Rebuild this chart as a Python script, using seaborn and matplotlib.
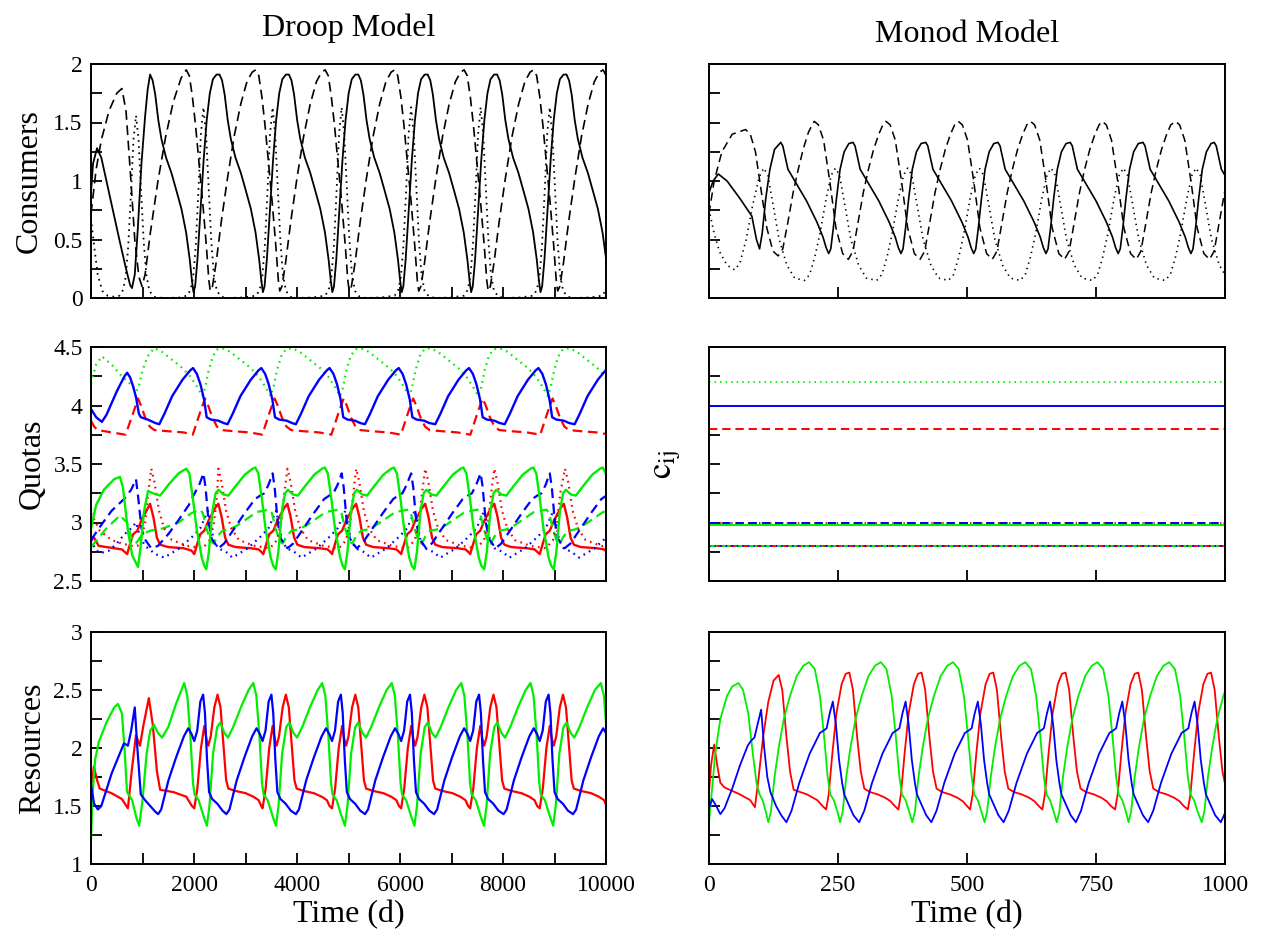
import matplotlib
matplotlib.use("Agg")
import numpy as np
import pandas as pd
import seaborn as sns
import matplotlib.pyplot as plt
from matplotlib.ticker import MultipleLocator, NullFormatter, FormatStrFormatter

# ---------------------------------------------------------------------------
# Data: each trajectory is an initial transient (head) followed by one
# repeating limit-cycle shape (phase offsets / values) placed at the
# successive cycle start times.
# ---------------------------------------------------------------------------

# Droop model, consumers (time in days)
droop_c1_head_t = [0, 40, 117, 200, 300, 400, 550, 680, 760, 796, 850, 910, 980, 1050, 1100]
droop_c1_head_v = [0.9, 1.15, 1.28, 1.2, 1.0, 0.8, 0.5, 0.25, 0.11, 0.085, 0.2, 0.6, 1.15, 1.55, 1.78]
droop_c1_cyc_t = [0, 50, 100, 160, 220, 310, 414, 510, 610, 700, 770, 815, 843, 875, 920, 980, 1040, 1100, 1160, 1220, 1290]
droop_c1_cyc_v = [1.91, 1.86, 1.74, 1.52, 1.36, 1.2, 1.07, 0.92, 0.76, 0.56, 0.33, 0.14, 0.05, 0.1, 0.33, 0.75, 1.18, 1.52, 1.75, 1.87, 1.91]
droop_c1_starts = [1147, 2495, 3843, 5190, 6538, 7885, 9233, 10580]

droop_c2_head_t = [0, 100, 200, 350, 500, 600, 680, 760, 850, 930, 990, 1050, 1150, 1300, 1450, 1600, 1750]
droop_c2_head_v = [0.72, 1.1, 1.35, 1.6, 1.75, 1.79, 1.6, 1.1, 0.5, 0.18, 0.1, 0.2, 0.55, 1.0, 1.38, 1.68, 1.88]
droop_c2_cyc_t = [0, 60, 120, 180, 250, 320, 390, 440, 468, 510, 580, 680, 800, 930, 1060, 1180, 1280]
droop_c2_cyc_v = [1.95, 1.9, 1.72, 1.48, 1.15, 0.82, 0.45, 0.15, 0.06, 0.1, 0.3, 0.65, 1.02, 1.38, 1.66, 1.85, 1.93]
droop_c2_starts = [1849, 3198, 4547, 5896, 7245, 8594, 9943, 11292]

droop_c3_head_t = [0, 60, 130, 220, 320, 450, 554, 624, 674, 724, 774, 824, 874, 924, 974, 1024, 1074, 1134, 1224, 1400, 1700]
droop_c3_head_v = [0.68, 0.45, 0.2, 0.06, 0.02, 0.01, 0.02, 0.07, 0.18, 0.45, 0.88, 1.35, 1.56, 1.35, 0.9, 0.48, 0.2, 0.06, 0.01, 0.0, 0.003]
droop_c3_cyc_t = [0, 70, 120, 170, 220, 270, 320, 370, 420, 470, 520, 580, 670, 800, 1100]
droop_c3_cyc_v = [0.02, 0.07, 0.18, 0.45, 0.9, 1.4, 1.63, 1.4, 0.95, 0.5, 0.2, 0.06, 0.01, 0.0, 0.005]
droop_c3_starts = [1864, 3206, 4547, 5897, 7246, 8588, 9930]

# Droop model, quotas
q_blue_solid_head_t = [0, 100, 211, 300, 500, 650, 702, 760, 820, 874, 930, 967, 1100, 1250]
q_blue_solid_head_v = [3.97, 3.9, 3.86, 3.92, 4.12, 4.25, 4.28, 4.24, 4.16, 4.07, 3.93, 3.9, 3.88, 3.85]
q_blue_solid_cyc_t = [0, 100, 250, 450, 600, 655, 730, 800, 870, 920, 1000, 1150, 1250]
q_blue_solid_cyc_v = [3.84, 3.93, 4.08, 4.22, 4.3, 4.32, 4.27, 4.18, 4.05, 3.9, 3.88, 3.87, 3.85]
q_blue_solid_starts = [1326, 2652, 3978, 5320, 6685, 8034, 9391, 10740]

q_red_dash_head_t = [0, 60, 130, 400, 672, 750, 830, 912, 970, 1050, 1140, 1230, 1500, 1800]
q_red_dash_head_v = [3.87, 3.82, 3.79, 3.77, 3.75, 3.85, 3.95, 4.06, 4.0, 3.9, 3.82, 3.79, 3.78, 3.77]
q_red_dash_cyc_t = [0, 60, 150, 240, 300, 380, 470, 560, 800, 1100, 1300]
q_red_dash_cyc_v = [3.75, 3.83, 3.95, 4.06, 4.0, 3.9, 3.82, 3.79, 3.78, 3.77, 3.755]
q_red_dash_starts = [1975, 3325, 4666, 6016, 7365, 8722, 10070]

q_green_dot_head_t = [0, 100, 211, 400, 600, 800, 874, 920, 1000, 1100]
q_green_dot_head_v = [4.19, 4.35, 4.42, 4.35, 4.25, 4.17, 4.12, 4.15, 4.3, 4.42]
q_green_dot_cyc_t = [0, 150, 350, 550, 700, 820, 900, 940, 990, 1060, 1140, 1230]
q_green_dot_cyc_v = [4.49, 4.46, 4.39, 4.32, 4.25, 4.17, 4.11, 4.08, 4.15, 4.3, 4.42, 4.48]
q_green_dot_starts = [1225, 2551, 3900, 5242, 6583, 7933, 9282, 10630]

q_green_solid_head_t = [0, 100, 250, 450, 562, 620, 717, 800, 912, 960, 1030, 1108, 1200, 1342, 1500, 1700, 1849, 1910, 1980, 2050, 2150, 2200]
q_green_solid_head_v = [2.95, 3.15, 3.28, 3.37, 3.39, 3.3, 2.93, 2.72, 2.62, 2.78, 3.1, 3.27, 3.25, 3.23, 3.32, 3.42, 3.46, 3.42, 3.2, 2.95, 2.7, 2.63]
q_green_solid_cyc_t = [0, 50, 120, 180, 234, 330, 429, 550, 750, 900, 951, 1010, 1080, 1150, 1250, 1300]
q_green_solid_cyc_v = [2.6, 2.75, 3.1, 3.25, 3.28, 3.24, 3.23, 3.3, 3.41, 3.46, 3.47, 3.42, 3.2, 2.95, 2.7, 2.63]
q_green_solid_starts = [2239, 3588, 4930, 6279, 7636, 8986, 10335]

q_blue_dash_head_t = [0, 200, 400, 640, 780, 874, 920, 980, 1040, 1170, 1300, 1500, 1700, 1900, 2000, 2100]
q_blue_dash_head_v = [2.85, 2.98, 3.1, 3.2, 3.28, 3.37, 3.2, 2.95, 2.86, 2.78, 2.8, 2.9, 3.02, 3.15, 3.24, 3.32]
q_blue_dash_cyc_t = [0, 40, 100, 160, 290, 400, 600, 800, 1000, 1100, 1180, 1260]
q_blue_dash_cyc_v = [3.42, 3.3, 3.0, 2.86, 2.78, 2.82, 2.95, 3.08, 3.2, 3.23, 3.25, 3.32]
q_blue_dash_starts = [2184, 3526, 4867, 6217, 7566, 8908, 10250]

q_red_dot_head_t = [0, 170, 400, 600, 800, 900, 970, 1050, 1110]
q_red_dot_head_v = [3.08, 2.93, 2.85, 2.82, 2.8, 2.8, 2.85, 3.0, 3.25]
q_red_dot_cyc_t = [0, 60, 150, 250, 400, 700, 1000, 1140, 1220, 1280]
q_red_dot_cyc_v = [3.46, 3.35, 3.1, 2.95, 2.85, 2.8, 2.78, 2.85, 3.0, 3.25]
q_red_dot_starts = [1170, 2473, 3814, 5148, 6490, 7831, 9204, 10540]

q_green_dash_head_t = [0, 300, 562, 700, 800, 870, 1000, 1150, 1400, 1700, 1950]
q_green_dash_head_v = [2.79, 2.95, 3.06, 3.0, 2.85, 2.82, 2.9, 2.93, 2.95, 3.0, 3.08]
q_green_dash_cyc_t = [0, 50, 120, 200, 260, 330, 430, 550, 700, 900, 1100]
q_green_dash_cyc_v = [3.11, 3.08, 2.95, 2.84, 2.82, 2.88, 2.93, 2.94, 2.97, 3.03, 3.09]
q_green_dash_starts = [2122, 3463, 4813, 6162, 7504, 8845, 10190]

q_red_solid_head_t = [0, 60, 150, 300, 600, 702, 760, 820, 900, 980, 1100, 1147, 1210, 1280, 1342, 1500, 1800, 1950]
q_red_solid_head_v = [2.85, 2.87, 2.8, 2.79, 2.77, 2.73, 2.82, 2.9, 2.93, 3.02, 3.12, 3.16, 3.05, 2.87, 2.81, 2.79, 2.78, 2.76]
q_red_solid_cyc_t = [0, 60, 117, 195, 280, 400, 468, 530, 600, 663, 800, 1100, 1250, 1300]
q_red_solid_cyc_v = [2.73, 2.82, 2.9, 2.93, 3.02, 3.12, 3.16, 3.05, 2.87, 2.81, 2.79, 2.78, 2.77, 2.75]
q_red_solid_starts = [2005, 3345, 4680, 6022, 7363, 8713, 10058]

q_blue_dot_head_t = [0, 100, 200, 350, 500, 650, 780, 874, 950, 1050, 1250]
q_blue_dot_head_v = [2.85, 2.76, 2.74, 2.76, 2.82, 2.9, 2.95, 3.0, 2.88, 2.8, 2.73]
q_blue_dot_cyc_t = [0, 300, 550, 700, 800, 850, 900, 960, 1050, 1200]
q_blue_dot_cyc_v = [2.7, 2.78, 2.88, 2.95, 3.05, 3.1, 3.0, 2.85, 2.78, 2.75]
q_blue_dot_starts = [1420, 2745, 4087, 5437, 6786, 8128, 9477, 10820]

# Droop model, resources
dr_green_head_t = [0, 30, 80, 150, 300, 450, 523, 600, 650, 700, 800, 880, 936, 1000, 1080, 1150, 1225, 1300, 1380, 1500, 1650]
dr_green_head_v = [1.2, 1.6, 1.9, 2.05, 2.22, 2.35, 2.38, 2.3, 2.0, 1.62, 1.55, 1.4, 1.33, 1.55, 1.95, 2.15, 2.2, 2.13, 2.09, 2.18, 2.38]
dr_green_cyc_t = [0, 60, 120, 170, 200, 280, 370, 440, 490, 560, 640, 700, 780, 850, 950, 1100, 1250]
dr_green_cyc_v = [2.56, 2.45, 2.1, 1.7, 1.6, 1.55, 1.42, 1.33, 1.5, 1.95, 2.18, 2.22, 2.13, 2.09, 2.18, 2.35, 2.5]
dr_green_starts = [1810, 3151, 4490, 5840, 7190, 8534, 9900, 11245]

dr_blue_head_t = [0, 60, 133, 200, 400, 640, 717, 780, 850, 900, 967, 1050, 1150, 1250]
dr_blue_head_v = [1.68, 1.52, 1.47, 1.5, 1.78, 2.04, 2.02, 2.15, 2.35, 2.0, 1.6, 1.55, 1.5, 1.45]
dr_blue_cyc_t = [0, 60, 200, 350, 500, 585, 650, 702, 760, 820, 874, 910, 950, 990, 1050, 1150, 1250]
dr_blue_cyc_v = [1.43, 1.47, 1.72, 1.92, 2.1, 2.17, 2.12, 2.06, 2.15, 2.4, 2.46, 2.3, 1.9, 1.62, 1.56, 1.52, 1.46]
dr_blue_starts = [1303, 2629, 3978, 5320, 6661, 8011, 9360, 10705]

dr_red_head_t = [0, 55, 120, 170, 400, 600, 717, 790, 873, 951, 1020, 1123, 1200, 1280, 1342, 1600, 1850, 1960]
dr_red_head_v = [1.62, 1.84, 1.72, 1.65, 1.61, 1.56, 1.48, 1.8, 2.11, 2.02, 2.2, 2.43, 2.2, 1.8, 1.64, 1.62, 1.58, 1.5]
dr_red_cyc_t = [0, 60, 130, 195, 235, 273, 320, 390, 452, 510, 570, 620, 663, 800, 1000, 1150, 1250, 1300]
dr_red_cyc_v = [1.48, 1.65, 2.0, 2.19, 2.08, 2.02, 2.1, 2.35, 2.46, 2.35, 2.0, 1.72, 1.65, 1.63, 1.61, 1.58, 1.55, 1.5]
dr_red_starts = [2005, 3331, 4680, 6022, 7363, 8713, 10058]

# Monod model, consumers
mo_c1_head_t = [0, 8, 18, 35, 60, 83, 92, 98, 103, 110, 118, 127]
mo_c1_head_v = [0.9, 1.0, 1.06, 1.0, 0.85, 0.7, 0.5, 0.42, 0.55, 0.85, 1.1, 1.27]
mo_c1_cyc_t = [0, 4, 9, 14, 18, 30, 50, 70, 82, 88, 93, 97, 102, 108, 115, 123, 132]
mo_c1_cyc_v = [1.33, 1.3, 1.2, 1.1, 1.07, 0.98, 0.83, 0.65, 0.52, 0.43, 0.38, 0.42, 0.6, 0.85, 1.1, 1.25, 1.32]
mo_c1_starts = [139, 279, 420, 560, 700, 841, 979, 1120]

mo_c2_head_t = [0, 10, 25, 45, 71, 80, 90, 100, 112, 124, 134, 143, 153, 163, 173, 183, 193]
mo_c2_head_v = [0.72, 1.0, 1.25, 1.4, 1.44, 1.4, 1.25, 0.95, 0.6, 0.4, 0.36, 0.42, 0.65, 0.9, 1.1, 1.28, 1.42]
mo_c2_cyc_t = [0, 8, 18, 30, 42, 55, 66, 75, 85, 95, 105, 115, 125, 133]
mo_c2_cyc_v = [1.51, 1.48, 1.35, 1.0, 0.6, 0.38, 0.33, 0.4, 0.65, 0.9, 1.1, 1.27, 1.4, 1.48]
mo_c2_starts = [204, 343, 483, 623, 762, 904, 1043]

mo_c3_head_t = [0, 10, 20, 35, 50, 60, 72, 85, 97, 106, 114, 124, 136, 151, 166]
mo_c3_head_v = [0.76, 0.55, 0.4, 0.28, 0.24, 0.3, 0.5, 0.8, 1.03, 1.11, 1.05, 0.8, 0.5, 0.28, 0.17]
mo_c3_cyc_t = [0, 10, 20, 30, 42, 52, 60, 68, 78, 90, 105, 120]
mo_c3_cyc_v = [0.15, 0.2, 0.35, 0.55, 0.85, 1.05, 1.11, 1.05, 0.8, 0.5, 0.28, 0.17]
mo_c3_starts = [185, 325, 464, 603, 743, 884, 1023]

# Monod model, half-saturation constants c_ij (constant in time)
cij_t = [0, 1000]
cij_green_dot = 4.20
cij_blue_solid = 4.00
cij_red_dash = 3.80
cij_red_dot = 3.00
cij_blue_dash = 3.00
cij_green_solid = 2.98
cij_red_solid = 2.80
cij_green_dash = 2.80
cij_blue_dot = 2.80

# Monod model, resources
mr_green_head_t = [0, 5, 12, 22, 35, 45, 57, 66, 76, 85, 92, 98, 104, 110]
mr_green_head_v = [1.36, 1.6, 1.95, 2.25, 2.45, 2.53, 2.56, 2.5, 2.3, 1.95, 1.7, 1.6, 1.55, 1.45]
mr_green_cyc_t = [0, 5, 12, 20, 30, 42, 55, 68, 79, 90, 100, 108, 115, 120, 127, 134]
mr_green_cyc_v = [1.36, 1.45, 1.75, 2.0, 2.25, 2.45, 2.62, 2.71, 2.74, 2.68, 2.45, 2.1, 1.75, 1.6, 1.55, 1.45]
mr_green_starts = [115, 254, 394, 534, 674, 813, 955, 1095]

mr_red_head_t = [0, 4, 10, 16, 22, 30, 60, 80, 89, 95, 105, 115, 125, 135, 142, 150, 157, 164, 190, 210, 220]
mr_red_head_v = [1.62, 1.85, 2.03, 1.85, 1.7, 1.66, 1.6, 1.55, 1.49, 1.7, 2.1, 2.4, 2.58, 2.63, 2.5, 2.1, 1.8, 1.64, 1.6, 1.55, 1.5]
mr_red_cyc_t = [0, 5, 12, 20, 30, 38, 45, 52, 60, 67, 74, 85, 100, 115, 125, 133]
mr_red_cyc_v = [1.47, 1.6, 1.95, 2.3, 2.55, 2.64, 2.65, 2.5, 2.1, 1.8, 1.65, 1.62, 1.6, 1.57, 1.54, 1.5]
mr_red_starts = [227, 367, 506, 646, 787, 928, 1068]

mr_blue_head_t = [0, 6, 14, 22, 30, 45, 60, 75, 81, 88, 95, 101, 107, 113, 119, 130, 140]
mr_blue_head_v = [1.48, 1.56, 1.5, 1.43, 1.48, 1.65, 1.85, 2.02, 2.06, 2.09, 2.22, 2.33, 2.0, 1.75, 1.62, 1.5, 1.42]
mr_blue_cyc_t = [0, 6, 10, 25, 45, 65, 72, 78, 84, 90, 96, 102, 108, 112, 120, 130]
mr_blue_cyc_v = [1.36, 1.42, 1.46, 1.7, 1.95, 2.13, 2.15, 2.17, 2.3, 2.4, 2.2, 1.9, 1.7, 1.6, 1.52, 1.42]
mr_blue_starts = [150, 291, 431, 571, 711, 851, 992, 1132]


def trajectory(head_t, head_v, cyc_t, cyc_v, starts):
    """Transient points followed by the limit-cycle shape at each cycle start."""
    t = list(head_t)
    v = list(head_v)
    for s in starts:
        t.extend(s + p for p in cyc_t)
        v.extend(cyc_v)
    return pd.DataFrame({"t": t, "v": v})


# ---------------------------------------------------------------------------
# Style
# ---------------------------------------------------------------------------
sns.set_style("ticks")
plt.rcParams.update({
    "font.family": ["Liberation Serif", "DejaVu Serif"],
    "mathtext.fontset": "stix",
    "text.color": "black",
    "axes.labelcolor": "black",
    "axes.edgecolor": "black",
    "axes.linewidth": 1.4,
    "xtick.color": "black",
    "ytick.color": "black",
    "xtick.direction": "in",
    "ytick.direction": "in",
    "lines.scale_dashes": False,
    "lines.solid_joinstyle": "round",
})

RED, GREEN, BLUE = "#ff0000", "#00ee00", "#0000ff"
SOLID = "-"
DASH_L = (0, (7, 4))
DOT_L = (0, (1.2, 3.2))
DASH_R = (0, (6, 3.5))
DOT_R = (0, (1.0, 3.0))

fig = plt.figure(figsize=(12.67, 9.33), dpi=100)

W = 1267.0
H = 933.0
col_x = [(91, 606), (709, 1225)]
row_y = [(64, 298), (347, 581), (632, 864)]


def make_axes(col, row):
    x0, x1 = col_x[col]
    y0, y1 = row_y[row]
    return fig.add_axes([x0 / W, 1 - y1 / H, (x1 - x0) / W, (y1 - y0) / H])


def draw(ax, df, color, ls, lw):
    sns.lineplot(data=df, x="t", y="v", ax=ax, color=color, linestyle=ls,
                 linewidth=lw, estimator=None, sort=False, errorbar=None)


def finish(ax, xlim, xmajor, xminor, ylim, ymajor, yminor, xlabels, ylabels):
    ax.set_xlim(*xlim)
    ax.set_ylim(*ylim)
    ax.xaxis.set_major_locator(MultipleLocator(xmajor))
    if xminor:
        ax.xaxis.set_minor_locator(MultipleLocator(xminor))
    ax.yaxis.set_major_locator(MultipleLocator(ymajor))
    if yminor:
        ax.yaxis.set_minor_locator(MultipleLocator(yminor))
    ax.tick_params(which="both", length=8, width=1.3, top=False, right=False,
                   labelsize=17)
    ax.tick_params(axis="x", pad=8)
    ax.tick_params(axis="y", pad=6)
    if not xlabels:
        ax.xaxis.set_major_formatter(NullFormatter())
    else:
        ax.xaxis.set_major_formatter(FormatStrFormatter("%d"))
    if not ylabels:
        ax.yaxis.set_major_formatter(NullFormatter())
    else:
        ax.yaxis.set_major_formatter(FormatStrFormatter("%g"))
    ax.set_xlabel("")
    ax.set_ylabel("")
    for sp in ax.spines.values():
        sp.set_linewidth(1.4)


# ---------------- Droop: consumers ----------------
ax = make_axes(0, 0)
draw(ax, trajectory(droop_c3_head_t, droop_c3_head_v, droop_c3_cyc_t, droop_c3_cyc_v, droop_c3_starts), "black", DOT_L, 1.3)
draw(ax, trajectory(droop_c2_head_t, droop_c2_head_v, droop_c2_cyc_t, droop_c2_cyc_v, droop_c2_starts), "black", DASH_L, 1.2)
draw(ax, trajectory(droop_c1_head_t, droop_c1_head_v, droop_c1_cyc_t, droop_c1_cyc_v, droop_c1_starts), "black", SOLID, 1.3)
finish(ax, (0, 10000), 2000, 1000, (0, 2), 0.5, 0.25, False, True)
ax.set_ylabel("Consumers", fontsize=23)
ax.yaxis.set_label_coords(-0.092, 0.5)

# ---------------- Droop: quotas ----------------
ax = make_axes(0, 1)
quota_series = [
    (q_red_solid_head_t, q_red_solid_head_v, q_red_solid_cyc_t, q_red_solid_cyc_v, q_red_solid_starts, RED, SOLID),
    (q_blue_dot_head_t, q_blue_dot_head_v, q_blue_dot_cyc_t, q_blue_dot_cyc_v, q_blue_dot_starts, BLUE, DOT_L),
    (q_green_dash_head_t, q_green_dash_head_v, q_green_dash_cyc_t, q_green_dash_cyc_v, q_green_dash_starts, GREEN, DASH_L),
    (q_red_dot_head_t, q_red_dot_head_v, q_red_dot_cyc_t, q_red_dot_cyc_v, q_red_dot_starts, RED, DOT_L),
    (q_blue_dash_head_t, q_blue_dash_head_v, q_blue_dash_cyc_t, q_blue_dash_cyc_v, q_blue_dash_starts, BLUE, DASH_L),
    (q_green_solid_head_t, q_green_solid_head_v, q_green_solid_cyc_t, q_green_solid_cyc_v, q_green_solid_starts, GREEN, SOLID),
    (q_red_dash_head_t, q_red_dash_head_v, q_red_dash_cyc_t, q_red_dash_cyc_v, q_red_dash_starts, RED, DASH_L),
    (q_green_dot_head_t, q_green_dot_head_v, q_green_dot_cyc_t, q_green_dot_cyc_v, q_green_dot_starts, GREEN, DOT_L),
    (q_blue_solid_head_t, q_blue_solid_head_v, q_blue_solid_cyc_t, q_blue_solid_cyc_v, q_blue_solid_starts, BLUE, SOLID),
]
for ht, hv, ct, cv, st, col, ls in quota_series:
    draw(ax, trajectory(ht, hv, ct, cv, st), col, ls, 1.7 if ls == SOLID else 1.6)
finish(ax, (0, 10000), 2000, 1000, (2.5, 4.5), 0.5, 0.25, False, True)
ax.set_ylabel("Quotas", fontsize=23)
ax.yaxis.set_label_coords(-0.085, 0.5)

# ---------------- Droop: resources ----------------
ax = make_axes(0, 2)
draw(ax, trajectory(dr_red_head_t, dr_red_head_v, dr_red_cyc_t, dr_red_cyc_v, dr_red_starts), RED, SOLID, 1.6)
draw(ax, trajectory(dr_green_head_t, dr_green_head_v, dr_green_cyc_t, dr_green_cyc_v, dr_green_starts), GREEN, SOLID, 1.6)
draw(ax, trajectory(dr_blue_head_t, dr_blue_head_v, dr_blue_cyc_t, dr_blue_cyc_v, dr_blue_starts), BLUE, SOLID, 1.6)
finish(ax, (0, 10000), 2000, 1000, (1, 3), 0.5, 0.25, True, True)
ax.set_ylabel("Resources", fontsize=23)
ax.yaxis.set_label_coords(-0.085, 0.5)
ax.set_xlabel("Time (d)", fontsize=23, labelpad=3)

# ---------------- Monod: consumers ----------------
ax = make_axes(1, 0)
draw(ax, trajectory(mo_c3_head_t, mo_c3_head_v, mo_c3_cyc_t, mo_c3_cyc_v, mo_c3_starts), "black", DOT_R, 1.2)
draw(ax, trajectory(mo_c2_head_t, mo_c2_head_v, mo_c2_cyc_t, mo_c2_cyc_v, mo_c2_starts), "black", DASH_R, 1.1)
draw(ax, trajectory(mo_c1_head_t, mo_c1_head_v, mo_c1_cyc_t, mo_c1_cyc_v, mo_c1_starts), "black", SOLID, 1.2)
finish(ax, (0, 1000), 250, None, (0, 2), 0.25, None, False, False)

# ---------------- Monod: c_ij ----------------
ax = make_axes(1, 1)
cij_series = [
    (cij_red_solid, RED, SOLID),
    (cij_green_solid, GREEN, SOLID),
    (cij_blue_solid, BLUE, SOLID),
    (cij_green_dash, GREEN, DASH_R),
    (cij_red_dot, RED, DOT_R),
    (cij_blue_dash, BLUE, DASH_R),
    (cij_red_dash, RED, DASH_R),
    (cij_blue_dot, BLUE, DOT_R),
    (cij_green_dot, GREEN, DOT_R),
]
for val, col, ls in cij_series:
    draw(ax, pd.DataFrame({"t": cij_t, "v": [val, val]}), col, ls, 1.4)
finish(ax, (0, 1000), 250, None, (2.5, 4.5), 0.25, None, False, False)
ax.set_ylabel(r"$\mathrm{c}_{\mathrm{ij}}$", fontsize=25)
ax.yaxis.set_label_coords(-0.05, 0.5)

# ---------------- Monod: resources ----------------
ax = make_axes(1, 2)
draw(ax, trajectory(mr_red_head_t, mr_red_head_v, mr_red_cyc_t, mr_red_cyc_v, mr_red_starts), RED, SOLID, 1.3)
draw(ax, trajectory(mr_green_head_t, mr_green_head_v, mr_green_cyc_t, mr_green_cyc_v, mr_green_starts), GREEN, SOLID, 1.3)
draw(ax, trajectory(mr_blue_head_t, mr_blue_head_v, mr_blue_cyc_t, mr_blue_cyc_v, mr_blue_starts), BLUE, SOLID, 1.3)
finish(ax, (0, 1000), 250, None, (1, 3), 0.25, None, True, False)
ax.set_xlabel("Time (d)", fontsize=23, labelpad=3)

# column titles
fig.text(348.5 / W, 1 - 36 / H, "Droop Model", ha="center", va="baseline", fontsize=23)
fig.text(967 / W, 1 - 42 / H, "Monod Model", ha="center", va="baseline", fontsize=23)

fig.savefig("out.png", dpi=100)
